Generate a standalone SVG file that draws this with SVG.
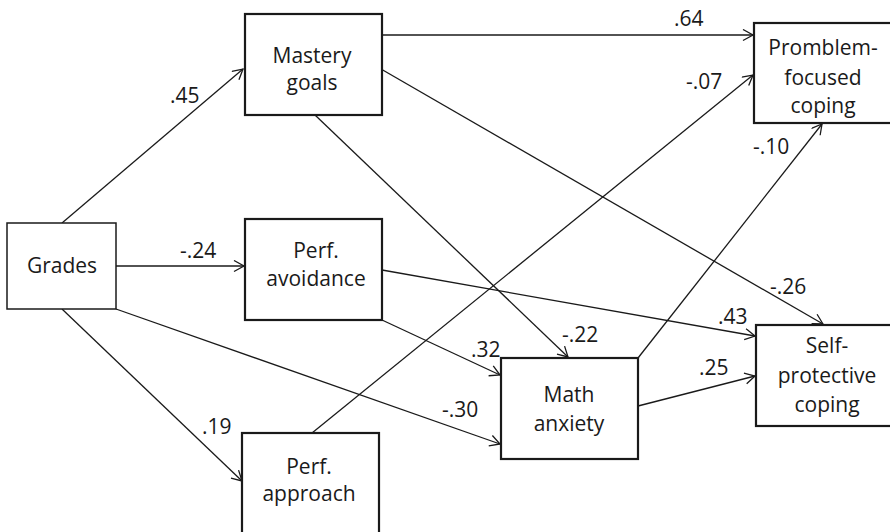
<svg xmlns="http://www.w3.org/2000/svg" width="890" height="532" viewBox="0 0 890 532">
<defs>
<style>
.box{fill:#fff;stroke:#1a1a1a;stroke-width:2.2}
.thin{stroke-width:1.5}
.t{font-family:"Open Sans","Noto Sans",sans-serif;font-size:21px;fill:#1a1a1a;text-anchor:middle}
.lbl{font-family:"Open Sans","Noto Sans",sans-serif;font-size:21px;fill:#1a1a1a}
.e{stroke:#1a1a1a;stroke-width:1.3;fill:none;marker-end:url(#ah)}
</style>
<marker id="ah" markerUnits="userSpaceOnUse" markerWidth="14" markerHeight="14" refX="11" refY="6" orient="auto">
<path d="M1,0.5 L11,6 L1,11.5" fill="none" stroke="#1a1a1a" stroke-width="1.3"/>
</marker>
</defs>
<rect width="890" height="532" fill="#fff"/>
<g id="connectors">
<line class="e" x1="62" y1="223" x2="243" y2="69"/>
<line class="e" x1="116" y1="266" x2="244" y2="266"/>
<line class="e" x1="62" y1="309" x2="242" y2="481"/>
<line class="e" x1="116" y1="309" x2="500" y2="444"/>
<line class="e" x1="382" y1="35" x2="753" y2="35"/>
<line class="e" x1="381" y1="69" x2="823" y2="324"/>
<line class="e" x1="315" y1="115" x2="568" y2="357"/>
<line class="e" x1="382" y1="270" x2="755" y2="336"/>
<line class="e" x1="382" y1="320" x2="500" y2="375"/>
<line class="e" x1="312" y1="433" x2="753" y2="75"/>
<line class="e" x1="638" y1="358" x2="822" y2="124"/>
<line class="e" x1="638" y1="406" x2="755" y2="376"/>
<text class="lbl" x="170" y="103">.45</text>
<text class="lbl" x="180" y="258">-.24</text>
<text class="lbl" x="202" y="434">.19</text>
<text class="lbl" x="442" y="417">-.30</text>
<text class="lbl" x="674" y="26">.64</text>
<text class="lbl" x="770" y="294">-.26</text>
<text class="lbl" x="562" y="342">-.22</text>
<text class="lbl" x="718" y="324">.43</text>
<text class="lbl" x="471" y="357">.32</text>
<text class="lbl" x="686" y="89">-.07</text>
<text class="lbl" x="753" y="154">-.10</text>
<text class="lbl" x="699" y="375">.25</text>
</g>
<g id="grades">
<rect class="box thin" x="7" y="223" width="109" height="86"/>
<text class="t" x="62" y="273">Grades</text>
</g>
<g id="mastery">
<rect class="box" x="245" y="14" width="137" height="101"/>
<text class="t" x="312" y="63">Mastery</text>
<text class="t" x="312" y="90">goals</text>
</g>
<g id="avoidance">
<rect class="box" x="245" y="219" width="137" height="101"/>
<text class="t" x="316" y="258">Perf.</text>
<text class="t" x="316" y="286">avoidance</text>
</g>
<g id="approach">
<rect class="box" x="242" y="433" width="137" height="101"/>
<text class="t" x="309" y="474">Perf.</text>
<text class="t" x="309" y="501">approach</text>
</g>
<g id="math">
<rect class="box" x="501" y="358" width="137" height="101"/>
<text class="t" x="569" y="402">Math</text>
<text class="t" x="569" y="431">anxiety</text>
</g>
<g id="problem">
<rect class="box" x="754" y="23" width="140" height="100"/>
<text class="t" x="823" y="55">Promblem-</text>
<text class="t" x="823" y="85">focused</text>
<text class="t" x="823" y="113">coping</text>
</g>
<g id="selfprot">
<rect class="box" x="756" y="325" width="140" height="101"/>
<text class="t" x="827" y="353">Self-</text>
<text class="t" x="827" y="383">protective</text>
<text class="t" x="827" y="412">coping</text>
</g>
</svg>
